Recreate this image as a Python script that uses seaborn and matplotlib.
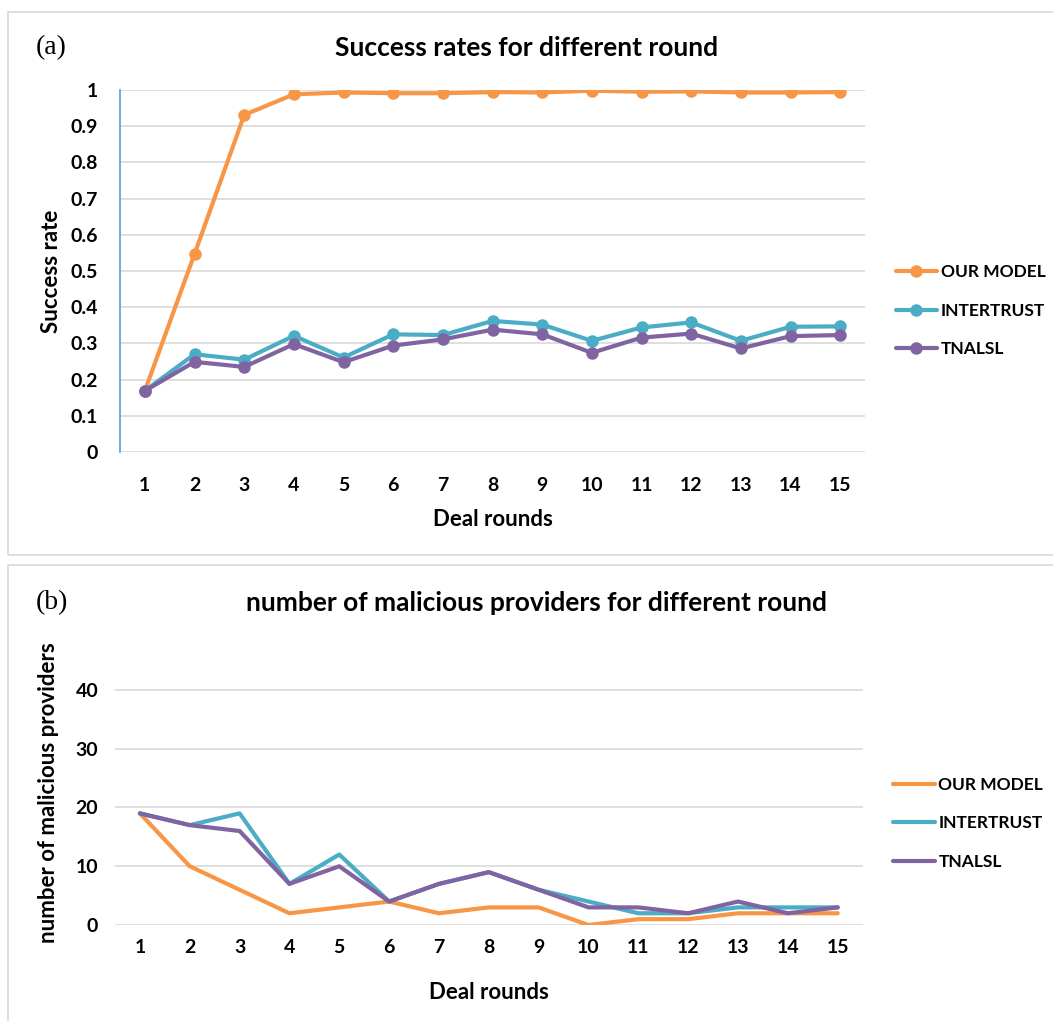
import matplotlib
matplotlib.use("Agg")
import matplotlib.pyplot as plt
import numpy as np
import pandas as pd
import seaborn as sns
from matplotlib.patches import Rectangle

# ---- data ----
rounds = list(range(1, 16))
models = ["OUR MODEL", "INTERTRUST", "TNALSL"]

success_our = [0.169, 0.547, 0.931, 0.988, 0.993, 0.991, 0.991, 0.994, 0.993,
               0.998, 0.995, 0.996, 0.993, 0.993, 0.994]
success_intertrust = [0.169, 0.270, 0.255, 0.321, 0.261, 0.325, 0.323, 0.362, 0.352,
                      0.307, 0.344, 0.358, 0.307, 0.346, 0.347]
success_tnalsl = [0.169, 0.249, 0.235, 0.298, 0.248, 0.294, 0.311, 0.338, 0.325,
                  0.274, 0.316, 0.327, 0.286, 0.320, 0.323]

malicious_our = [19, 10, 6, 2, 3, 4, 2, 3, 3, 0, 1, 1, 2, 2, 2]
malicious_intertrust = [19, 17, 19, 7, 12, 4, 7, 9, 6, 4, 2, 2, 3, 3, 3]
malicious_tnalsl = [19, 17, 16, 7, 10, 4, 7, 9, 6, 3, 3, 2, 4, 2, 3]

colors = ["#F79646", "#4BACC6", "#8064A2"]


def long_form(series, value_name):
    frames = []
    for name, vals in zip(models, series):
        frames.append(pd.DataFrame({"round": rounds, value_name: vals, "model": name}))
    return pd.concat(frames, ignore_index=True)


def style_ticks(ax):
    for lab in ax.get_xticklabels() + ax.get_yticklabels():
        lab.set_fontsize(14)
        lab.set_fontweight("bold")
        lab.set_color("black")


sns.set_theme(style="white")
plt.rcParams["font.family"] = ["Lato", "DejaVu Sans"]
plt.rcParams["font.weight"] = "bold"
plt.rcParams["text.color"] = "black"
plt.rcParams["axes.labelcolor"] = "black"

fig = plt.figure(figsize=(10.53, 10.21), dpi=100)

# panel frames
fig.patches.append(Rectangle((8 / 1053, 1 - 555 / 1021), 1.0, 543 / 1021,
                             transform=fig.transFigure, fill=False,
                             edgecolor="#D9D9D9", linewidth=1.2))
fig.patches.append(Rectangle((8 / 1053, -0.01), 1.0, 456 / 1021 + 0.01,
                             transform=fig.transFigure, fill=False,
                             edgecolor="#D9D9D9", linewidth=1.2))

palette = dict(zip(models, colors))
legend_kw = dict(loc="center left", frameon=False, prop={"size": 12.5, "weight": "bold"},
                 handlelength=2.4, labelspacing=1.3, handletextpad=0.2)

# ---- (a) success rates ----
ax1 = fig.add_axes([0.114, 0.5573, 0.7075, 0.3546])
df1 = long_form([success_our, success_intertrust, success_tnalsl], "rate")
sns.lineplot(data=df1, x="round", y="rate", hue="model", palette=palette,
             marker="o", markersize=9, markeredgewidth=0, linewidth=3,
             ax=ax1)
ax1.set_xlim(0.5, 15.5)
ax1.set_ylim(0, 1)
ax1.set_yticks(np.arange(0, 1.01, 0.1))
ax1.set_yticklabels(["0", "0.1", "0.2", "0.3", "0.4", "0.5", "0.6", "0.7", "0.8", "0.9", "1"])
ax1.set_xticks(rounds)
ax1.yaxis.grid(True, color="#D9D9D9", linewidth=1.2)
ax1.set_axisbelow(True)
for s in ["top", "right", "bottom"]:
    ax1.spines[s].set_visible(False)
ax1.spines["left"].set_color("#5B9BD5")
ax1.spines["left"].set_linewidth(1.2)
ax1.tick_params(axis="x", length=0, pad=18)
ax1.tick_params(axis="y", length=0, pad=16)
style_ticks(ax1)
ax1.set_xlabel("Deal rounds", fontsize=16, fontweight="bold", labelpad=11)
ax1.set_ylabel("Success rate", fontsize=16, fontweight="bold", labelpad=6)
ax1.legend(bbox_to_anchor=(1.02, 0.39), **legend_kw)
fig.text(527 / 1053, 1 - 48 / 1021, "Success rates for different round", fontsize=19,
         fontweight="bold", ha="center", va="center")
fig.text(36 / 1053, 1 - 48 / 1021, "(a)", fontsize=20, family="Liberation Serif",
         fontweight="normal", va="center")

# ---- (b) malicious providers ----
ax2 = fig.add_axes([0.1092, 0.094, 0.710, 0.259])
df2 = long_form([malicious_our, malicious_intertrust, malicious_tnalsl], "count")
sns.lineplot(data=df2, x="round", y="count", hue="model", palette=palette,
             linewidth=3, ax=ax2)
ax2.set_xlim(0.5, 15.5)
ax2.set_ylim(0, 45)
ax2.set_yticks([0, 10, 20, 30, 40])
ax2.set_xticks(rounds)
ax2.yaxis.grid(True, color="#D9D9D9", linewidth=1.2)
ax2.set_axisbelow(True)
for s in ["top", "right", "bottom", "left"]:
    ax2.spines[s].set_visible(False)
ax2.tick_params(axis="x", length=0, pad=10)
ax2.tick_params(axis="y", length=0, pad=12)
style_ticks(ax2)
ax2.set_xlabel("Deal rounds", fontsize=16, fontweight="bold", labelpad=19)
ax2.set_ylabel("number of malicious providers", fontsize=16, fontweight="bold", labelpad=12)
ax2.legend(bbox_to_anchor=(1.02, 0.385), **legend_kw)
fig.text(536 / 1053, 1 - 603 / 1021, "number of malicious providers for different round",
         fontsize=19, fontweight="bold", ha="center", va="center")
fig.text(36 / 1053, 1 - 603 / 1021, "(b)", fontsize=20, family="Liberation Serif",
         fontweight="normal", va="center")

fig.savefig("out.png", dpi=100)
